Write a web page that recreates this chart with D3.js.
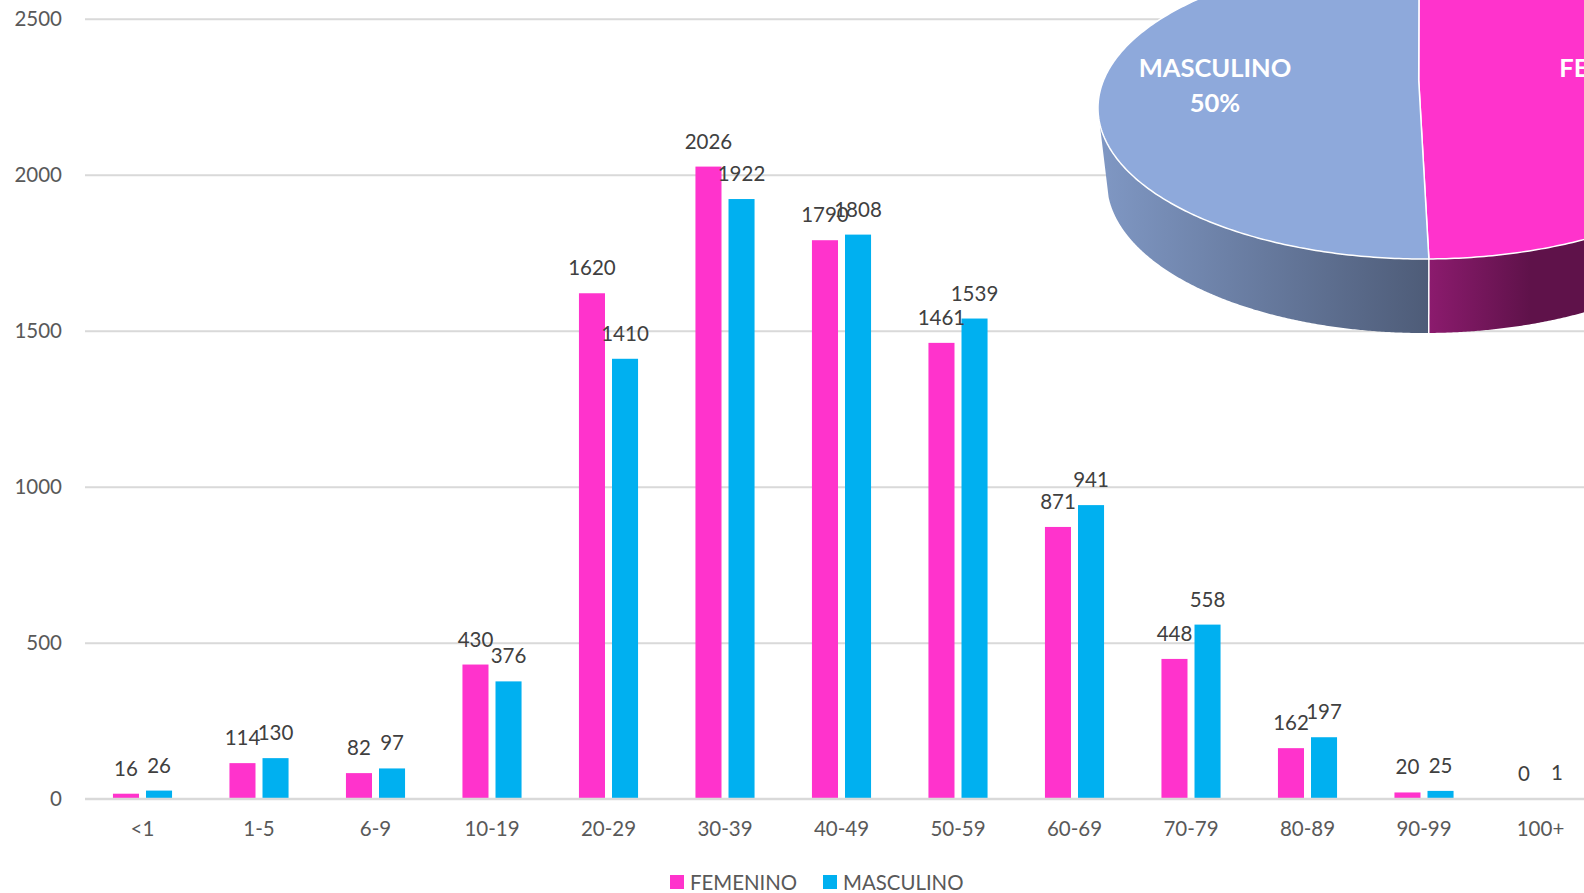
<!DOCTYPE html>
<html>
  <head>
    <meta charset="utf-8">
    <title>Casos por edad y sexo</title>
    <script src="https://d3js.org/d3.v7.min.js"></script>
    <style>
      html, body { margin: 0; padding: 0; background: #fff; overflow: hidden; }
      svg { display: block; }
      text { font-family: Lato, sans-serif; }
    </style>
  </head>
  <body>
    <div id="chart"></div>
    <script>
      // data
      var categories = ["<1", "1-5", "6-9", "10-19", "20-29", "30-39", "40-49", "50-59", "60-69", "70-79", "80-89", "90-99", "100+"];
      var femenino = [16, 114, 82, 430, 1620, 2026, 1790, 1461, 871, 448, 162, 20, 0];
      var masculino = [26, 130, 97, 376, 1410, 1922, 1808, 1539, 941, 558, 197, 25, 1];
      var yTicks = [0, 500, 1000, 1500, 2000, 2500];
      var seriesNames = ["FEMENINO", "MASCULINO"];
      var pieLabels = ["FEMENINO", "MASCULINO"];
      var pieValues = [50, 50];

      var width = 1584;
      var height = 893;
      var colors = { FEMENINO: "#ff33cc", MASCULINO: "#00b0f0" };

      var svg = d3.select("#chart")
        .append("svg")
        .attr("width", width)
        .attr("height", height);

      var x = d3.scaleBand()
        .domain(categories)
        .range([84.25, 1598.75]);

      // two bars inside each group, 26px wide with 7px between
      var x1 = d3.scaleBand()
        .domain(seriesNames)
        .range([28.7, x.bandwidth() - 28.7])
        .paddingInner(0.212);

      var y = d3.scaleLinear()
        .domain([0, 2500])
        .range([798.7, 18.7]);

      // y axis + grid
      var yAxis = svg.append("g")
        .attr("transform", "translate(85,0)")
        .call(d3.axisLeft(y).tickValues(yTicks).tickFormat(d3.format("d")).tickSize(-1500).tickPadding(23));
      yAxis.select(".domain").remove();
      yAxis.selectAll("line").attr("stroke", "#d9d9d9").attr("stroke-width", 2);
      yAxis.selectAll("text")
        .attr("fill", "#595959")
        .style("font-size", "20.5px");

      // bars
      var values = { FEMENINO: femenino, MASCULINO: masculino };
      seriesNames.forEach(function(name) {
        svg.append("g").selectAll("rect")
          .data(values[name])
          .enter()
          .append("rect")
          .attr("x", function(d, i) { return x(categories[i]) + x1(name); })
          .attr("y", function(d) { return y(d); })
          .attr("width", x1.bandwidth())
          .attr("height", function(d) { return y(0) - y(d); })
          .attr("fill", colors[name]);
      });

      // zero line sits over the bars
      svg.append("line")
        .attr("x1", 85)
        .attr("x2", width)
        .attr("y1", y(0))
        .attr("y2", y(0))
        .attr("stroke", "#d9d9d9")
        .attr("stroke-width", 2);

      // x axis
      var xAxis = svg.append("g")
        .attr("transform", "translate(0,798.7)")
        .call(d3.axisBottom(x).tickSize(0).tickPadding(23));
      xAxis.select(".domain").remove();
      xAxis.selectAll("text")
        .attr("fill", "#595959")
        .style("font-size", "20.5px");

      // pie, tilted ellipse with a wall under it
      var pieCx = 1424, pieCy = 108, pieRx = 326, pieRy = 151;
      var wallRx = 317, wallDepth = 74;
      var apex = [-5.3, -28];
      var tilt = -0.015;

      var defs = svg.append("defs");
      function wallGradient(id, x1Pos, x2Pos, from, to) {
        var g = defs.append("linearGradient")
          .attr("id", id)
          .attr("gradientUnits", "userSpaceOnUse")
          .attr("x1", x1Pos).attr("x2", x2Pos).attr("y1", 0).attr("y2", 0);
        g.append("stop").attr("offset", 0).attr("stop-color", from);
        g.append("stop").attr("offset", 1).attr("stop-color", to);
      }
      wallGradient("wallMasculino", 1103, 1428, "#7f97c3", "#4e5c78");
      wallGradient("wallFemenino", 1428, 1530, "#8c1b6e", "#5f124a");

      var slices = d3.pie()
        .sort(null)
        .startAngle(tilt)
        .endAngle(2 * Math.PI + tilt)(pieValues);

      function angles(a0, a1) {
        var n = 240, out = [];
        for (var i = 0; i <= n; i++) out.push(a0 + (a1 - a0) * i / n);
        return out;
      }

      var wall = d3.area()
        .x0(function(a) { return pieCx + pieRx * Math.sin(a); })
        .y0(function(a) { return pieCy - pieRy * Math.cos(a); })
        .x1(function(a) { return pieCx + wallRx * Math.sin(a); })
        .y1(function(a) { return pieCy + wallDepth - pieRy * Math.cos(a); });

      var pieG = svg.append("g");

      // femenino wall runs out of the frame, masculino stops at the left edge
      pieG.append("path")
        .attr("d", wall(angles(Math.PI / 2, slices[0].endAngle)))
        .attr("fill", "url(#wallFemenino)");
      pieG.append("path")
        .attr("d", wall(angles(slices[1].startAngle, 1.5 * Math.PI - 0.1)))
        .attr("fill", "url(#wallMasculino)");
      pieG.append("line")
        .attr("x1", pieCx + pieRx * Math.sin(slices[0].endAngle))
        .attr("y1", pieCy + pieRy)
        .attr("x2", pieCx + wallRx * Math.sin(slices[0].endAngle))
        .attr("y2", pieCy + pieRy + wallDepth)
        .attr("stroke", "#fff")
        .attr("stroke-width", 1.5);

      var sliceLine = d3.line();
      var sliceColors = { FEMENINO: "#ff33cc", MASCULINO: "#8ea9db" };
      slices.forEach(function(s, i) {
        var pts = angles(s.startAngle, s.endAngle).map(function(a) {
          return [pieCx + pieRx * Math.sin(a), pieCy - pieRy * Math.cos(a)];
        });
        pts.push([pieCx + apex[0], pieCy + apex[1]]);
        pieG.append("path")
          .attr("d", sliceLine(pts) + "Z")
          .attr("fill", sliceColors[pieLabels[i]])
          .attr("stroke", "#fff")
          .attr("stroke-width", 1.5)
          .attr("stroke-linejoin", "round");
      });

      // pie labels
      var pieText = [
        { name: pieLabels[1], value: pieValues[1], cx: 1215 },
        { name: pieLabels[0], value: pieValues[0], cx: 1627 }
      ];
      pieText.forEach(function(t) {
        var label = pieG.append("text")
          .attr("text-anchor", "middle")
          .attr("fill", "#fff")
          .style("font-size", "25.5px")
          .style("font-weight", 700);
        label.append("tspan").attr("x", t.cx).attr("y", 77).text(t.name);
        label.append("tspan").attr("x", t.cx).attr("y", 112).text(t.value + "%");
      });

      // data labels go on top of everything
      seriesNames.forEach(function(name) {
        svg.append("g").selectAll("text")
          .data(values[name])
          .enter()
          .append("text")
          .attr("x", function(d, i) { return x(categories[i]) + x1(name) + x1.bandwidth() / 2; })
          .attr("y", function(d) { return y(d) - 18; })
          .attr("text-anchor", "middle")
          .attr("fill", "#404040")
          .style("font-size", "20.5px")
          .text(function(d) { return d; });
      });

      // legend
      var legendX = { FEMENINO: 670, MASCULINO: 823 };
      var legend = svg.append("g").selectAll("g")
        .data(seriesNames)
        .enter()
        .append("g")
        .attr("transform", function(d) { return "translate(" + legendX[d] + ",875)"; });
      legend.append("rect")
        .attr("width", 14)
        .attr("height", 14)
        .attr("fill", function(d) { return colors[d]; });
      legend.append("text")
        .attr("x", 20)
        .attr("y", 14.5)
        .attr("fill", "#595959")
        .style("font-size", "20.4px")
        .text(function(d) { return d; });
    </script>
  </body>
</html>
